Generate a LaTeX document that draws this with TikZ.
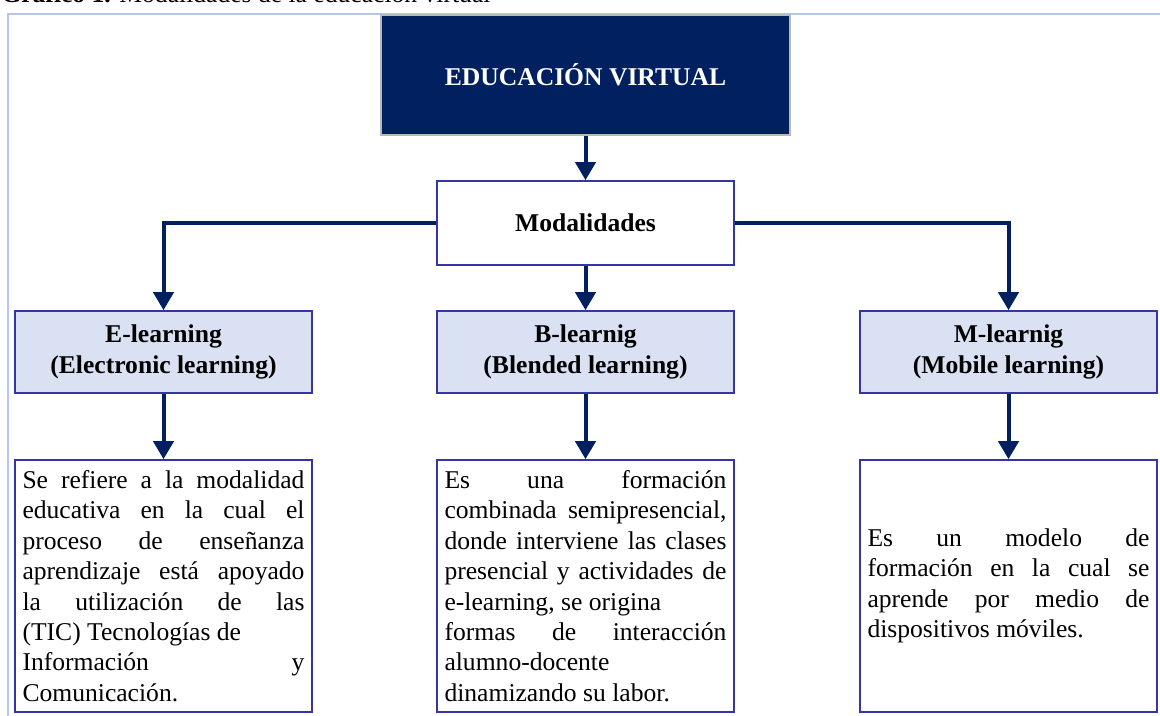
\documentclass[tikz,border=0pt]{standalone}
\usepackage{fontspec}
\setmainfont{Liberation Serif}
\usetikzlibrary{arrows.meta}
\definecolor{navy}{HTML}{002060}
\definecolor{boxline}{HTML}{3535A8}
\definecolor{lightfill}{HTML}{D9E1F2}
\definecolor{framecol}{HTML}{B4C7E7}
\newcommand{\bodysize}{\fontsize{12.8pt}{15.2pt}\selectfont}
\setlength{\parindent}{0pt}
\hyphenpenalty=10000
\exhyphenpenalty=10000
\begin{document}
\begin{tikzpicture}[x=0.5pt,y=-0.5pt,
    arrow/.style = {navy,line width=2pt,-{Triangle[width=10pt,length=9pt]}},
    line/.style = {navy,line width=2pt},
    titlebox/.style = {draw=gray!55,line width=0.6pt,fill=navy,text=white,font=\bodysize\bfseries,
                       minimum width=204.5pt,minimum height=60pt},
    modbox/.style = {draw=boxline,line width=0.8pt,fill=white,font=\bodysize\bfseries,
                     minimum width=148.5pt,minimum height=42pt},
    kindbox/.style = {draw=boxline,line width=0.8pt,fill=lightfill,font=\bodysize\bfseries,align=center,
                      minimum width=148.5pt,minimum height=41pt},
    descbox/.style = {draw=boxline,line width=0.8pt,fill=white,font=\bodysize,align=justify,
                      text width=141pt,inner xsep=3.75pt,minimum height=126pt}]
    \useasboundingbox (0,0) rectangle (1160,716);

    % caption (cut at top) and frame
    \node[anchor=base west,font=\bodysize,inner sep=0pt] (caption) at (1,3)
        {\textbf{Gráfico 1.} Modalidades de la educación virtual};
    \draw[framecol,line width=1pt] (8,716) -- (8,14.5) -- (1160,14.5);

    \node[titlebox] (edu) at (585.5,75)  {EDUCACIÓN VIRTUAL};
    \node[modbox]   (mod) at (585.5,223) {Modalidades};

    \node[kindbox] (elearn) at (163.5,352) {E-learning\\(Electronic learning)};
    \node[kindbox] (blearn) at (585.5,352) {B-learnig\\(Blended learning)};
    \node[kindbox] (mlearn) at (1008.5,352) {M-learnig\\(Mobile learning)};

    \node[descbox] (edesc) at (163.5,586) {Se refiere a la modalidad\linebreak
        educativa en la cual el\linebreak proceso de enseñanza\linebreak
        aprendizaje está apoyado\linebreak la utilización de las\linebreak
        (TIC) Tecnologías de\newline Información y\linebreak Comunicación.};
    \node[descbox] (bdesc) at (585.5,586) {Es una formación\linebreak
        combinada semipresencial,\linebreak donde interviene las clases\linebreak
        presencial y actividades de\linebreak e-learning, se origina\newline
        formas de interacción\linebreak alumno-docente\newline dinamizando su labor.};
    \node[descbox] (mdesc) at (1008.5,586) {Es un modelo de\linebreak
        formación en la cual se\linebreak aprende por medio de\linebreak
        dispositivos móviles.};

    \draw[arrow] (edu) -- (mod);
    \draw[arrow] (mod.west) -| (elearn.north);
    \draw[arrow] (mod) -- (blearn);
    \draw[arrow] (mod.east) -| (mlearn.north);

    \draw[arrow] (elearn) -- (edesc);
    \draw[arrow] (blearn) -- (bdesc);
    \draw[arrow] (mlearn) -- (mdesc);
\end{tikzpicture}
\end{document}
